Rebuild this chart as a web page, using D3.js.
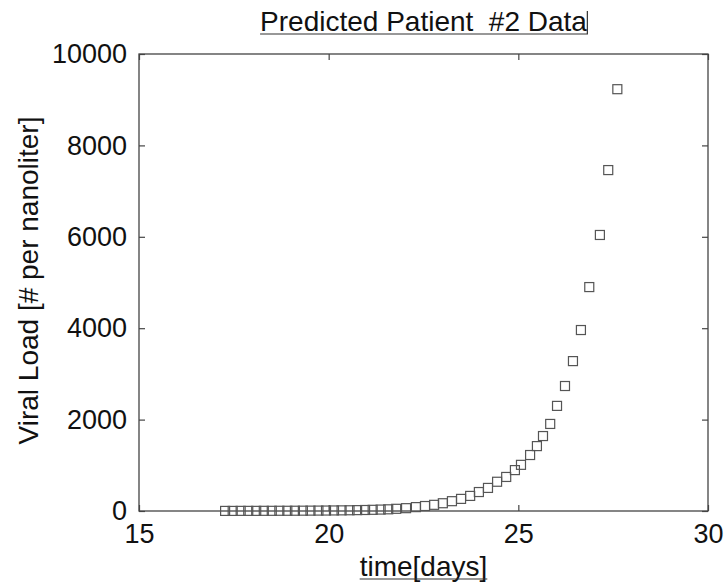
<!DOCTYPE html>
<html>
<head>
<meta charset="utf-8">
<script src="https://cdn.jsdelivr.net/npm/d3@7/dist/d3.min.js"></script>
<style>
  body { margin: 0; background: #fff; }
  svg { display: block; font-family: "Liberation Sans", Arial, sans-serif; }
</style>
</head>
<body>
<div id="chart"></div>
<script>
// values
const timeDays = [
  17.27, 17.47, 17.68, 17.88, 18.09, 18.29, 18.50, 18.70, 18.91, 19.11,
  19.32, 19.52, 19.73, 19.93, 20.14, 20.34, 20.55, 20.75, 20.96, 21.16,
  21.37, 21.57, 21.78, 22.04, 22.30, 22.54, 22.78, 23.01, 23.25, 23.49,
  23.73, 23.96, 24.20, 24.44, 24.68, 24.91, 25.07, 25.31, 25.49, 25.65,
  25.84, 26.02, 26.23, 26.44, 26.65, 26.87, 27.15, 27.37, 27.61
];
const viralLoad = [
  2, 2, 3, 3, 3, 4, 4, 5, 5, 6,
  7, 8, 9, 10, 12, 14, 16, 19, 22, 26,
  31, 37, 48, 62, 85, 109, 135, 170, 215, 265,
  330, 415, 505, 640, 745, 895, 1010, 1225, 1420, 1640,
  1905, 2300, 2735, 3280, 3960, 4900, 6040, 7460, 9230
];
const xTicks = [15, 20, 25, 30];
const yTicks = [0, 2000, 4000, 6000, 8000, 10000];

const width = 726, height = 586;
const margin = { top: 54, right: 18, bottom: 75, left: 139 };

const svg = d3.select('#chart').append('svg')
  .attr('width', width)
  .attr('height', height);

const x = d3.scaleLinear().domain([15, 30]).range([margin.left, width - margin.right]);
const y = d3.scaleLinear().domain([0, 10000]).range([height - margin.bottom, margin.top]);

const axisColor = '#444';
const tickLen = 6;

// box
svg.append('rect')
  .attr('x', x(15)).attr('y', y(10000))
  .attr('width', x(30) - x(15)).attr('height', y(0) - y(10000))
  .attr('fill', 'none').attr('stroke', axisColor).attr('stroke-width', 1.3);

// axes (ticks pointing inward, MATLAB style)
const fmt = d3.format('d');
const bottomAxis = d3.axisBottom(x).tickValues(xTicks).tickFormat(fmt).tickSizeInner(-tickLen).tickSizeOuter(0).tickPadding(13);
const leftAxis = d3.axisLeft(y).tickValues(yTicks).tickFormat(fmt).tickSizeInner(-tickLen).tickSizeOuter(0).tickPadding(12);
const topAxis = d3.axisTop(x).tickValues(xTicks).tickSizeInner(-tickLen).tickSizeOuter(0).tickFormat('');
const rightAxis = d3.axisRight(y).tickValues(yTicks).tickSizeInner(-tickLen).tickSizeOuter(0).tickFormat('');

function styleAxis(g) {
  g.select('.domain').remove();
  g.selectAll('.tick line').attr('stroke', axisColor).attr('stroke-width', 1.2);
  g.selectAll('.tick text')
    .attr('fill', '#111')
    .style('font-size', '27px')
    .style('font-family', '"Liberation Sans", Arial, sans-serif');
}

svg.append('g').attr('transform', `translate(0,${y(0)})`).call(bottomAxis).call(styleAxis);
svg.append('g').attr('transform', `translate(${x(15)},0)`).call(leftAxis).call(styleAxis);
svg.append('g').attr('transform', `translate(0,${y(10000)})`).call(topAxis).call(styleAxis);
svg.append('g').attr('transform', `translate(${x(30)},0)`).call(rightAxis).call(styleAxis);

// square markers
const sz = 9;
svg.append('g')
  .selectAll('rect')
  .data(timeDays.map((t, i) => ({ t, v: viralLoad[i] })))
  .join('rect')
  .attr('x', d => x(d.t) - sz / 2)
  .attr('y', d => y(d.v) - sz / 2)
  .attr('width', sz)
  .attr('height', sz)
  .attr('fill', 'none')
  .attr('stroke', '#555')
  .attr('stroke-width', 1.2);

// title with its underline
const title = svg.append('text')
  .attr('x', (x(15) + x(30)) / 2)
  .attr('y', 31)
  .attr('text-anchor', 'middle')
  .style('font-size', '28px')
  .style('white-space', 'pre')
  .attr('fill', '#111')
  .text('Predicted Patient  #2 Data');
const tb = title.node().getBBox();
svg.append('path')
  .attr('d', `M${tb.x},${tb.y + tb.height - 3}H${tb.x + tb.width}V${tb.y + 5}`)
  .attr('fill', 'none').attr('stroke', '#333').attr('stroke-width', 1.2);

// x label
const xl = svg.append('text')
  .attr('x', (x(15) + x(30)) / 2)
  .attr('y', 576)
  .attr('text-anchor', 'middle')
  .style('font-size', '28px')
  .attr('fill', '#111')
  .text('time[days]');
const xb = xl.node().getBBox();
svg.append('line')
  .attr('x1', xb.x).attr('x2', xb.x + xb.width)
  .attr('y1', xb.y + xb.height - 3).attr('y2', xb.y + xb.height - 3)
  .attr('stroke', '#333').attr('stroke-width', 1.2);

// y label
svg.append('text')
  .attr('transform', `translate(38,${(y(0) + y(10000)) / 2 - 2}) rotate(-90)`)
  .attr('text-anchor', 'middle')
  .style('font-size', '28px')
  .attr('fill', '#111')
  .text('Viral Load [# per nanoliter]');
</script>
</body>
</html>
